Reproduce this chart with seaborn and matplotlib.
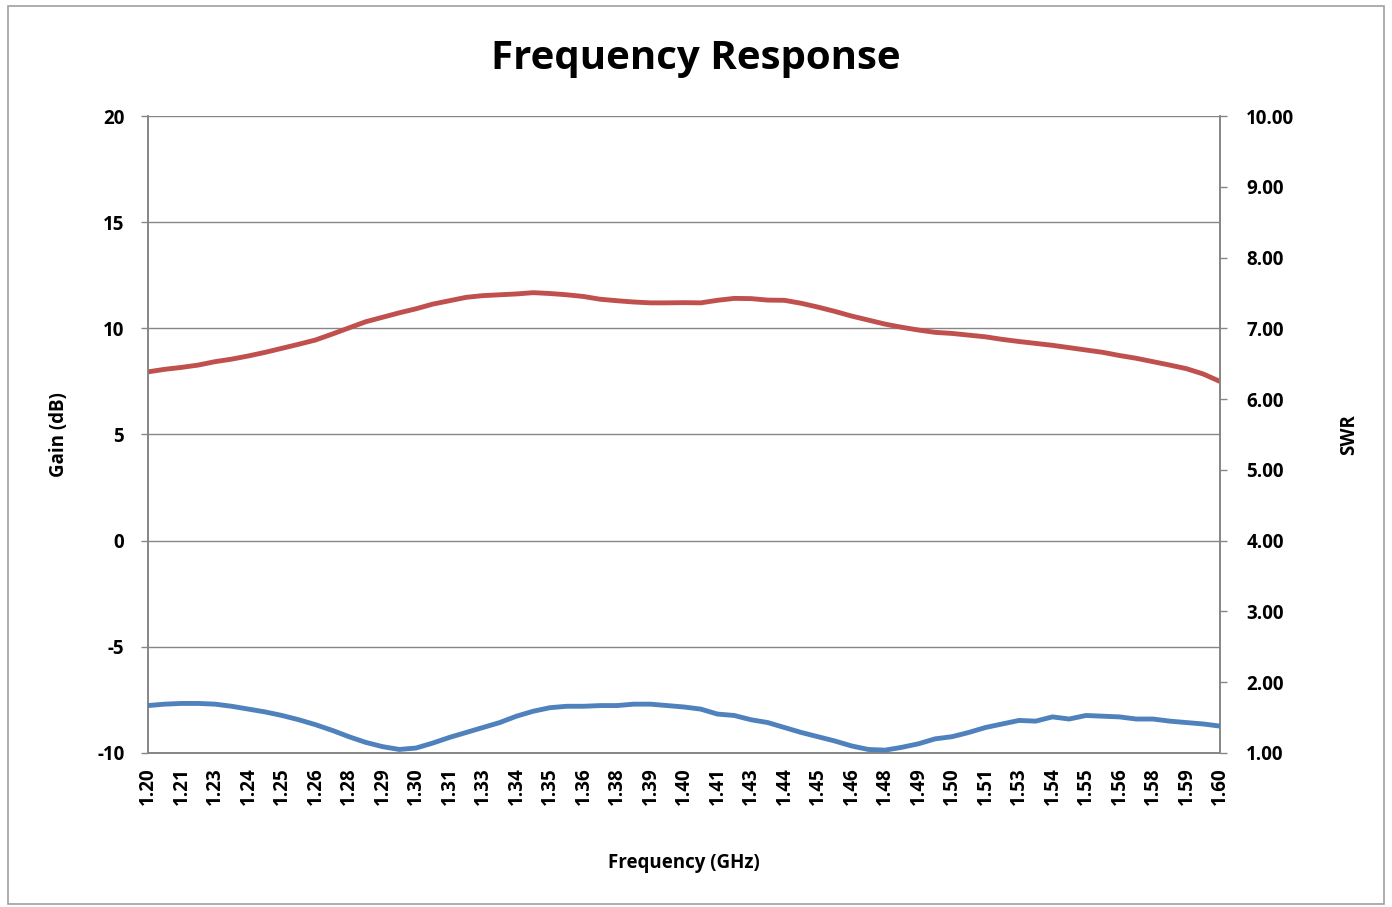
import numpy as np
import pandas as pd
import matplotlib
matplotlib.use('Agg')
import matplotlib.pyplot as plt
import seaborn as sns
from matplotlib.patches import Rectangle

freq_ghz = [1.2, 1.20625, 1.2125, 1.21875, 1.225, 1.23125, 1.2375, 1.24375,
            1.25, 1.25625, 1.2625, 1.26875, 1.275, 1.28125, 1.2875, 1.29375,
            1.3, 1.30625, 1.3125, 1.31875, 1.325, 1.33125, 1.3375, 1.34375,
            1.35, 1.35625, 1.3625, 1.36875, 1.375, 1.38125, 1.3875, 1.39375,
            1.4, 1.40625, 1.4125, 1.41875, 1.425, 1.43125, 1.4375, 1.44375,
            1.45, 1.45625, 1.4625, 1.46875, 1.475, 1.48125, 1.4875, 1.49375,
            1.5, 1.50625, 1.5125, 1.51875, 1.525, 1.53125, 1.5375, 1.54375,
            1.55, 1.55625, 1.5625, 1.56875, 1.575, 1.58125, 1.5875, 1.59375, 1.6]

gain_db = [7.95, 8.07, 8.16, 8.27, 8.43, 8.55, 8.70, 8.87,
           9.06, 9.25, 9.45, 9.73, 10.02, 10.31, 10.52, 10.73,
           10.92, 11.14, 11.30, 11.46, 11.54, 11.58, 11.62, 11.68,
           11.64, 11.58, 11.50, 11.37, 11.30, 11.24, 11.20, 11.20,
           11.21, 11.20, 11.32, 11.41, 11.40, 11.33, 11.32, 11.18,
           11.00, 10.80, 10.58, 10.39, 10.20, 10.05, 9.92, 9.81,
           9.76, 9.68, 9.60, 9.48, 9.38, 9.29, 9.20, 9.09,
           8.98, 8.87, 8.72, 8.59, 8.43, 8.27, 8.10, 7.85, 7.50]

swr = [1.67, 1.69, 1.70, 1.70, 1.69, 1.66, 1.62, 1.58,
       1.53, 1.47, 1.40, 1.32, 1.23, 1.15, 1.09, 1.05,
       1.07, 1.14, 1.22, 1.29, 1.36, 1.43, 1.52, 1.59,
       1.64, 1.66, 1.66, 1.67, 1.67, 1.69, 1.69, 1.67,
       1.65, 1.62, 1.55, 1.53, 1.47, 1.43, 1.36, 1.29,
       1.23, 1.17, 1.10, 1.05, 1.04, 1.08, 1.13, 1.20,
       1.23, 1.29, 1.36, 1.41, 1.46, 1.45, 1.51, 1.48,
       1.53, 1.52, 1.51, 1.48, 1.48, 1.45, 1.43, 1.41, 1.38]

tick_pos = [1.2, 1.2125, 1.225, 1.2375, 1.25, 1.2625, 1.275, 1.2875, 1.3,
            1.3125, 1.325, 1.3375, 1.35, 1.3625, 1.375, 1.3875, 1.4,
            1.4125, 1.425, 1.4375, 1.45, 1.4625, 1.475, 1.4875, 1.5,
            1.5125, 1.525, 1.5375, 1.55, 1.5625, 1.575, 1.5875, 1.6]
tick_labels = ['1.20', '1.21', '1.23', '1.24', '1.25', '1.26', '1.28', '1.29', '1.30',
               '1.31', '1.33', '1.34', '1.35', '1.36', '1.38', '1.39', '1.40',
               '1.41', '1.43', '1.44', '1.45', '1.46', '1.48', '1.49', '1.50',
               '1.51', '1.53', '1.54', '1.55', '1.56', '1.58', '1.59', '1.60']

df = pd.DataFrame({'Frequency': freq_ghz, 'Gain': gain_db, 'SWR': swr})

sns.set_style('white')
plt.rcParams['font.family'] = ['Open Sans', 'DejaVu Sans']
plt.rcParams['axes.unicode_minus'] = False
plt.rcParams['text.color'] = 'black'
plt.rcParams['axes.labelcolor'] = 'black'
plt.rcParams['xtick.color'] = 'black'
plt.rcParams['ytick.color'] = 'black'

grey = '#868686'
fig = plt.figure(figsize=(13.92, 9.07), dpi=100)
ax = fig.add_axes([0.1063, 0.1698, 0.7701, 0.7023])
ax2 = ax.twinx()

sns.lineplot(data=df, x='Frequency', y='Gain', ax=ax, color='#C0504D', lw=3.5, zorder=3)
sns.lineplot(data=df, x='Frequency', y='SWR', ax=ax2, color='#4F81BD', lw=3.5, zorder=3)

ax.set_xlim(1.2, 1.6)
ax.set_ylim(-10, 20)
ax.set_yticks([-10, -5, 0, 5, 10, 15, 20])
ax2.set_ylim(1, 10)
ax2.set_yticks(range(1, 11))
ax2.set_yticklabels([f'{v:.2f}' for v in range(1, 11)])

ax.set_xticks(tick_pos)
ax.set_xticklabels(tick_labels, rotation=90)
ax.tick_params(axis='x', length=0, pad=10, labelsize=13.5, labelcolor='black')
ax.tick_params(axis='y', length=5, width=1, color=grey, direction='out', pad=12,
               labelsize=13.5, labelcolor='black')
ax2.tick_params(axis='y', length=5, width=1, color=grey, direction='out', pad=14,
                labelsize=13.5, labelcolor='black')
for lab in ax.get_xticklabels() + ax.get_yticklabels() + ax2.get_yticklabels():
    lab.set_fontweight('bold')

ax.yaxis.grid(True, color=grey, lw=1)
ax.set_axisbelow(True)
for a in (ax, ax2):
    for s in ['left', 'right', 'bottom']:
        a.spines[s].set_color(grey)
        a.spines[s].set_linewidth(1.2)
    a.spines['top'].set_visible(False)

ax.set_xlabel('Frequency (GHz)', fontsize=13.5, fontweight='bold', labelpad=35)
ax.set_ylabel('Gain (dB)', fontsize=13.5, fontweight='bold', labelpad=20)
ax2.set_ylabel('SWR', fontsize=13.5, fontweight='bold', labelpad=32)

fig.text(0.5, 0.935, 'Frequency Response', ha='center', va='center',
         fontsize=29, fontweight='bold', color='black')

fig.patches.append(Rectangle((0.006, 0.003), 0.988, 0.99, transform=fig.transFigure,
                             fill=False, edgecolor='#a0a0a0', lw=1.2))

fig.savefig('out.png', dpi=100)
